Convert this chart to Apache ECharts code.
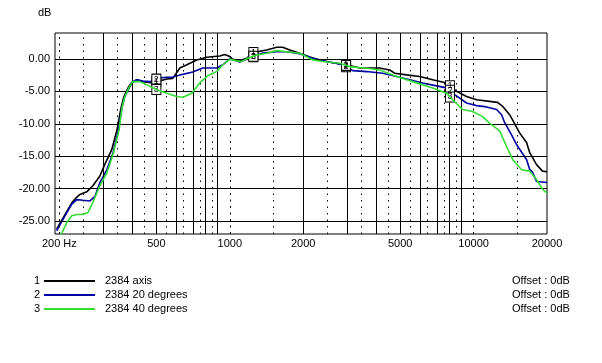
<!DOCTYPE html>
<html><head><meta charset="utf-8">
<script src="https://cdn.jsdelivr.net/npm/echarts@6/dist/echarts.min.js"></script>
<style>html,body{margin:0;padding:0;background:#fff}#c{width:602px;height:363px}</style>
</head><body><div id="c"></div>
<script>
const seriesNames = ['2384 axis', '2384 20 degrees', '2384 40 degrees'];
const seriesColors = ['#000000', '#0000a8', '#33dd33'];
const offsetText = 'Offset : 0dB';

const freq1 = [195,211,225,236,243,259,274,293,307,328,345,358,368,386,397,416,440,484,502,552,584,624,667,732,805,910,954,1000,1029,1099,1174,1242,1418,1558,1649,1762,1935,2128,2337,2644,3017,3412,4117,4527,4745,5311,6010,6792,7749,8516,9358,10287,11630,12540,13150,14050,14450,15440,16490,16970,18120,19170,20000];
const db1   = [-26.2,-24.0,-22.2,-21.3,-20.9,-20.5,-19.6,-18.1,-16.3,-14.0,-10.9,-7.6,-5.8,-4.2,-3.6,-3.2,-3.5,-3.7,-3.5,-3.1,-3.0,-1.4,-0.9,-0.15,0.26,0.46,0.7,0.36,-0.05,-0.26,0.1,0.97,1.38,1.8,1.8,1.38,0.87,0.3,-0.15,-0.6,-0.9,-1.4,-1.4,-1.7,-2.2,-2.46,-2.7,-3.2,-3.7,-5.0,-5.8,-6.3,-6.55,-6.7,-7.3,-8.6,-9.4,-11.4,-12.9,-14.4,-16.3,-17.3,-17.4];

const freq2 = [195,211,225,236,250,267,280,293,313,332,350,361,371,389,400,416,440,470,517,584,654,705,775,885,936,1000,1099,1242,1366,1558,1713,1935,2189,2498,2904,3192,3643,4236,4834,5467,6180,7047,7824,8358,9358,10287,11300,12420,13030,13400,14310,15000,15740,16490,16970,17450,18120,20000];
const db2   = [-26.5,-24.2,-22.4,-21.7,-21.8,-21.9,-21.2,-19.1,-17.1,-14.5,-10.9,-7.6,-5.8,-4.3,-3.6,-3.2,-3.4,-3.5,-2.9,-2.8,-2.3,-2.0,-1.4,-1.4,-0.9,0.0,-0.46,0.3,0.9,1.1,1.1,0.8,0.1,-0.4,-0.9,-1.8,-1.95,-2.2,-2.7,-3.2,-3.7,-4.15,-4.5,-5.5,-6.8,-7.2,-7.4,-7.8,-8.6,-9.8,-11.7,-13.2,-14.4,-15.5,-17.0,-17.5,-18.9,-19.05];

const freq3 = [198,205,215,225,236,250,262,274,293,313,332,352,361,371,389,400,428,457,502,552,606,642,699,753,812,885,936,1000,1068,1120,1185,1290,1418,1558,1713,1935,2189,2404,2823,3103,3643,4117,4834,5623,6792,7749,8204,9016,9908,10887,11630,12790,13650,14450,15740,16970,18120,19170,20000];
const db3   = [-27.8,-26.8,-25.2,-24.2,-24.0,-24.0,-23.7,-22.2,-19.6,-17.6,-14.75,-10.9,-7.6,-5.8,-4.2,-3.5,-3.5,-4.0,-4.76,-5.3,-5.8,-5.9,-5.3,-3.7,-2.6,-1.95,-0.9,-0.05,-0.3,-0.4,0.1,0.6,0.87,1.28,1.1,0.87,-0.15,-0.4,-0.66,-1.18,-1.43,-1.7,-2.7,-3.5,-4.5,-5.3,-6.3,-7.8,-8.1,-8.9,-9.9,-11.1,-13.5,-15.5,-17.1,-17.3,-18.6,-20.1,-20.7];

const xTickFreqs  = [200, 500, 1000, 2000, 5000, 10000, 20000];
const xTickLabels = ['200 Hz', '500', '1000', '2000', '5000', '10000', '20000'];
const yTicks = [0, -5, -10, -15, -20, -25];
const markerFreqs = [500, 1250, 3000, 8000];
const solidGridFreqs  = [300,400,500,600,700,800,900,2000,3000,4000,5000,6000,7000,8000,9000];
const dottedGridFreqs = [250,350,450,550,650,750,850,1500,2500,3500,4500,5500,6500,7500,8500,15000];
const decadeGridFreqs = [200,1000,10000];
const xMin = 192, xMax = 20000, yMin = -27, yMax = 4;

const FONT = '"Liberation Sans", Arial, sans-serif';
const L = Math.log10;
const freqs = [freq1, freq2, freq3];
const dbs = [db1, db2, db3];

function interp(fs, ds, f) {
  const lf = L(f);
  for (let i = 0; i < fs.length - 1; i++) {
    if (f >= fs[i] && f <= fs[i + 1]) {
      const t = (lf - L(fs[i])) / (L(fs[i + 1]) - L(fs[i]));
      return ds[i] + t * (ds[i + 1] - ds[i]);
    }
  }
  return ds[ds.length - 1];
}

const gridLines = [];
solidGridFreqs.forEach(f => gridLines.push({xAxis: L(f), lineStyle: {color: '#000', width: 1, type: 'solid'}}));
dottedGridFreqs.forEach(f => gridLines.push({xAxis: L(f), lineStyle: {color: '#000', width: 1, type: [1.5, 5]}}));
decadeGridFreqs.forEach(f => gridLines.push({xAxis: L(f), lineStyle: {color: '#000', width: 1, type: [2, 4.5]}}));
yTicks.forEach(v => gridLines.push({yAxis: v, lineStyle: {color: '#000', width: 1, type: 'solid'}}));

const series = [{
  type: 'line', data: [], silent: true, z: 1,
  markLine: {silent: true, symbol: ['none', 'none'], label: {show: false}, animation: false, data: gridLines}
}];
seriesNames.forEach((name, i) => {
  series.push({
    name, type: 'line', showSymbol: false, symbol: 'none', z: 3 + i,
    lineStyle: {color: seriesColors[i], width: 1.6},
    itemStyle: {color: seriesColors[i]},
    data: freqs[i].map((f, k) => [L(f), dbs[i][k]]),
    markPoint: {
      symbol: 'rect', symbolSize: [9, 10], animation: false,
      itemStyle: {color: '#fff', borderColor: '#000', borderWidth: 1},
      label: {show: true, formatter: String(i + 1), color: '#000', fontSize: 9, fontFamily: FONT},
      data: markerFreqs.map(f => ({coord: [L(f), interp(freqs[i], dbs[i], f)]}))
    }
  });
});

const rowY = [281, 295, 309];
const graphic = [{type: 'text', left: 38, top: 7, style: {text: 'dB', font: '11px ' + FONT, fill: '#000'}}];
seriesNames.forEach((name, i) => {
  graphic.push({type: 'text', x: 40, y: rowY[i], style: {text: String(i + 1), font: '11px ' + FONT, fill: '#000', align: 'right', verticalAlign: 'middle'}});
  graphic.push({type: 'line', shape: {x1: 44, y1: rowY[i], x2: 95, y2: rowY[i]}, style: {stroke: seriesColors[i], lineWidth: 2}});
  graphic.push({type: 'text', x: 105, y: rowY[i], style: {text: name, font: '11px ' + FONT, fill: '#000', verticalAlign: 'middle'}});
  graphic.push({type: 'text', x: 512, y: rowY[i], style: {text: offsetText, font: '11px ' + FONT, fill: '#000', verticalAlign: 'middle'}});
});

const chart = echarts.init(document.getElementById('c'), null, {renderer: 'canvas'});
chart.setOption({
  animation: false,
  backgroundColor: '#fff',
  grid: {left: 55, right: 55, top: 33, bottom: 129, show: true, borderColor: '#000', borderWidth: 1, backgroundColor: 'transparent', containLabel: false},
  xAxis: {
    type: 'value', min: L(xMin), max: L(xMax),
    axisLine: {show: false}, axisTick: {show: false}, splitLine: {show: false},
    axisLabel: {
      customValues: xTickFreqs.map(L), margin: 4, color: '#000', fontSize: 11, fontFamily: FONT,
      formatter: v => { const k = xTickFreqs.findIndex(f => Math.abs(L(f) - v) < 1e-6); return k >= 0 ? xTickLabels[k] : ''; }
    }
  },
  yAxis: {
    type: 'value', min: yMin, max: yMax,
    axisLine: {show: false}, axisTick: {show: false}, splitLine: {show: false},
    axisLabel: {customValues: yTicks, margin: 5, color: '#000', fontSize: 11, fontFamily: FONT, formatter: v => v.toFixed(2)}
  },
  graphic,
  series
});
</script></body></html>
